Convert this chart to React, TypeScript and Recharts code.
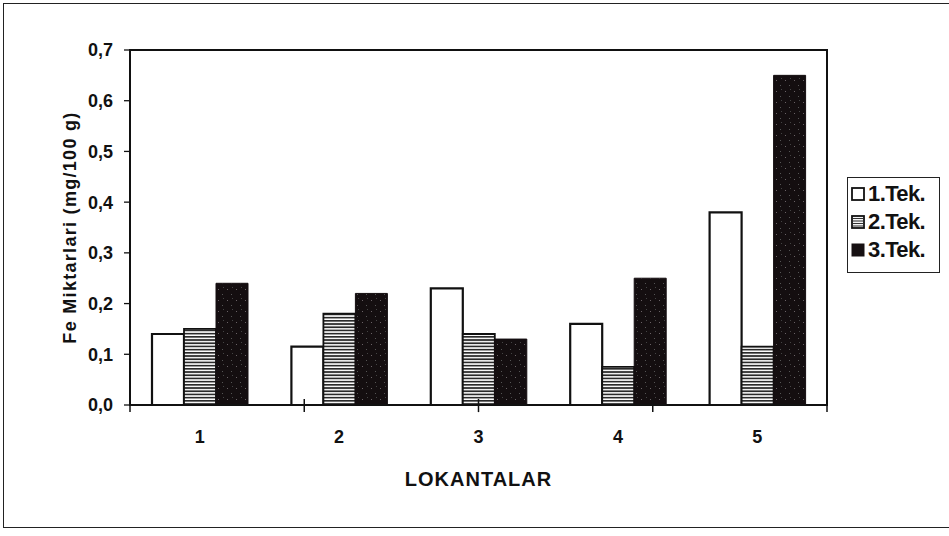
import React from 'react';
import { BarChart, Bar, XAxis, YAxis, ReferenceLine, ReferenceArea } from 'recharts';

const categories = ['1', '2', '3', '4', '5'];
const tek1 = [0.14, 0.115, 0.23, 0.16, 0.38];
const tek2 = [0.15, 0.18, 0.14, 0.075, 0.115];
const tek3 = [0.24, 0.22, 0.13, 0.25, 0.65];
const seriesNames = ['1.Tek.', '2.Tek.', '3.Tek.'];
const yTicks = [0, 0.1, 0.2, 0.3, 0.4, 0.5, 0.6, 0.7];
const boundaryTicks = [0, 1, 2, 3, 4, 5];
const xTitle = 'LOKANTALAR';
const yTitle = 'Fe Miktarlari (mg/100 g)';

const data = categories.map((c, i) => ({ name: c, t1: tek1[i], t2: tek2[i], t3: tek3[i] }));

const FONT = '"Liberation Sans", Arial, Helvetica, sans-serif';
const INK = '#111';

const fmt = (v: number) => v.toFixed(1).replace('.', ',');

function YLabel(props: any) {
  const vb = props.viewBox || { x: 0, y: 50, width: 130, height: 355 };
  const cx = vb.x + 70;
  const cy = vb.y + vb.height / 2;
  return (
    <text
      x={cx}
      y={cy}
      transform={`rotate(-90, ${cx}, ${cy})`}
      textAnchor="middle"
      dominantBaseline="central"
      fontFamily={FONT}
      fontWeight="bold"
      fontSize={18}
      letterSpacing={1.3}
      fill={INK}
    >
      {yTitle}
    </text>
  );
}

function Swatch({ kind }: { kind: number }) {
  return (
    <svg width={14} height={14} style={{ display: 'block' }}>
      {kind === 0 && <rect x={1} y={1} width={12} height={12} fill="#fff" stroke={INK} strokeWidth={1.8} />}
      {kind === 1 && (
        <g>
          <rect x={1} y={1} width={12} height={12} fill="#fff" stroke={INK} strokeWidth={1.8} />
          {[3.5, 6, 8.5, 11].map((y) => (
            <line key={y} x1={2} x2={12} y1={y} y2={y} stroke="#333" strokeWidth={1.1} />
          ))}
        </g>
      )}
      {kind === 2 && <rect x={0.5} y={0.5} width={13} height={13} fill="#161012" />}
    </svg>
  );
}

export default function App() {
  return (
    <div style={{ position: 'absolute', left: 0, top: 0, width: 949, height: 536, background: '#fff', overflow: 'hidden' }}>
      <div
        style={{
          position: 'absolute',
          left: 3,
          top: 3,
          width: 960,
          height: 525,
          border: '1.5px solid #222',
          boxSizing: 'border-box',
        }}
      />
      <div style={{ position: 'absolute', left: 0, top: 0 }}>
        <BarChart
          width={949}
          height={536}
          data={data}
          margin={{ top: 50, right: 122, bottom: 50, left: 0 }}
          barGap={0}
          barSize={32}
        >
          <defs>
            <pattern id="stripes" patternUnits="userSpaceOnUse" width={6} height={3.2}>
              <rect x={0} y={0} width={6} height={3.2} fill="#fff" />
              <rect x={0} y={0} width={6} height={1.7} fill="#2a2a2a" />
            </pattern>
            <pattern id="speckle" patternUnits="userSpaceOnUse" width={9} height={11}>
              <rect x={0} y={0} width={9} height={11} fill="#140e10" />
              <rect x={2} y={3} width={1} height={1} fill="#6a6266" />
              <rect x={6} y={8} width={1} height={1} fill="#555" />
              <rect x={7} y={1} width={1} height={1} fill="#444" />
            </pattern>
          </defs>
          <XAxis
            dataKey="name"
            axisLine={{ stroke: INK, strokeWidth: 2 }}
            tickLine={false}
            tickSize={6}
            tickMargin={19}
            height={81}
            tick={{ fontFamily: FONT, fontSize: 18, fontWeight: 'bold', fill: INK }}
            label={{
              value: xTitle,
              position: 'insideBottom',
              offset: 0,
              fontFamily: FONT,
              fontSize: 20,
              fontWeight: 'bold',
              letterSpacing: 1,
              fill: INK,
            }}
          />
          <XAxis xAxisId="bounds" type="number" domain={[0, 5]} hide />
          <YAxis
            width={130}
            domain={[0, 0.7]}
            ticks={yTicks}
            interval={0}
            tickFormatter={fmt}
            axisLine={{ stroke: INK, strokeWidth: 2 }}
            tickLine={{ stroke: INK, strokeWidth: 1.3 }}
            tickSize={6}
            tickMargin={11}
            tick={{ fontFamily: FONT, fontSize: 18, fontWeight: 'bold', fill: INK }}
            label={<YLabel />}
          />
          <ReferenceArea
            y1={0}
            y2={0.7}
            fill="none"
            stroke={INK}
            strokeWidth={2}
            ifOverflow="visible"
          />
          {boundaryTicks.map((b) => (
            <ReferenceLine
              key={b}
              xAxisId="bounds"
              segment={[
                { x: b, y: -0.014 },
                { x: b, y: 0.012 },
              ]}
              stroke={INK}
              strokeWidth={1.5}
              ifOverflow="visible"
            />
          ))}
          <Bar dataKey="t1" name={seriesNames[0]} fill="#fff" stroke={INK} strokeWidth={2.2} isAnimationActive={false} />
          <Bar dataKey="t2" name={seriesNames[1]} fill="url(#stripes)" stroke={INK} strokeWidth={1.8} isAnimationActive={false} />
          <Bar dataKey="t3" name={seriesNames[2]} fill="url(#speckle)" stroke="#140e10" strokeWidth={1} isAnimationActive={false} />
        </BarChart>
      </div>
      <div
        style={{
          position: 'absolute',
          left: 847,
          top: 177,
          width: 93,
          height: 96,
          border: '1.5px solid #222',
          boxSizing: 'border-box',
          background: '#fff',
          fontFamily: FONT,
          fontSize: 22,
          fontWeight: 'bold',
          color: INK,
          paddingTop: 2,
        }}
      >
        {seriesNames.map((n, i) => (
          <div key={n} style={{ display: 'flex', alignItems: 'center', height: 28, paddingLeft: 3 }}>
            <Swatch kind={i} />
            <span style={{ marginLeft: 3, lineHeight: '28px', letterSpacing: -0.6, whiteSpace: 'nowrap' }}>{n}</span>
          </div>
        ))}
      </div>
    </div>
  );
}
